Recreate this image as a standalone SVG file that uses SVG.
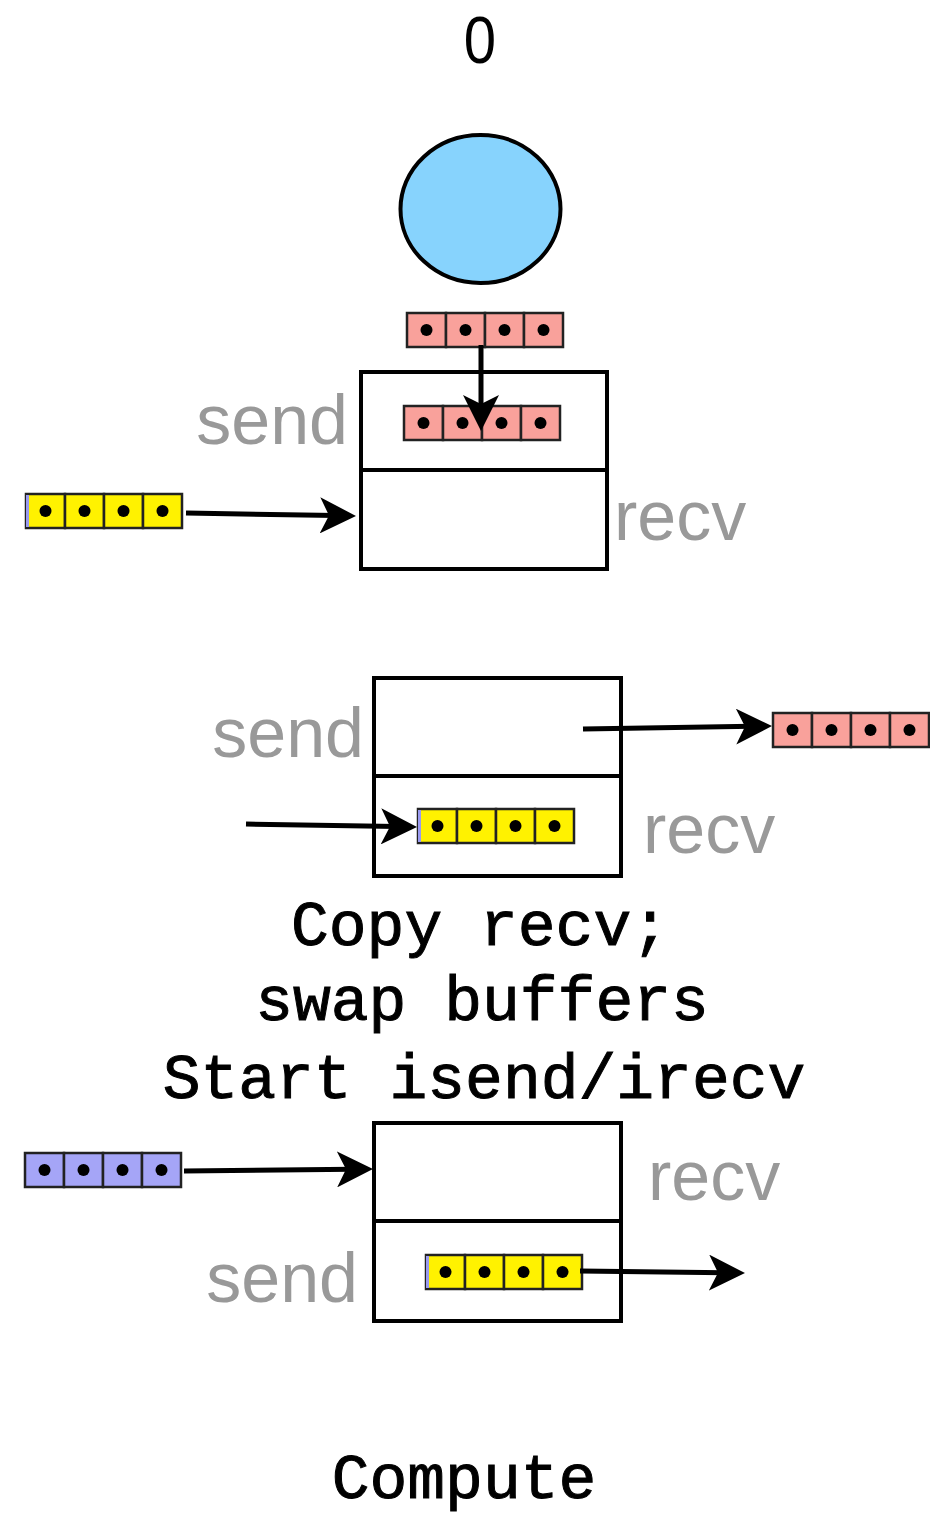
<svg xmlns="http://www.w3.org/2000/svg" xmlns:xlink="http://www.w3.org/1999/xlink" width="930" height="1519" viewBox="0 0 930 1519">
<style>
.box{fill:none;stroke:#000;stroke-width:4}
.lbl{font-family:"Liberation Sans",Arial,sans-serif;font-size:70px;fill:#999}
.mono{font-family:"Liberation Mono","Courier New",monospace;font-size:63px;fill:#000;stroke:#000;stroke-width:1;text-anchor:middle}
.conn{stroke:#000;stroke-width:5;fill:none;marker-end:url(#ah)}
.pink{fill:#f9a19b}
.yellow{fill:#fff200}
.blue{fill:#a5a5f7}
</style>
<defs>
<marker id="ah" markerUnits="userSpaceOnUse" viewBox="0 0 36 36" refX="16" refY="18" markerWidth="36" markerHeight="36" orient="auto">
<path d="M0,0 L36,18 L0,36 L9,18 z" fill="#000"/>
</marker>
<g id="arr">
<rect x="0" y="0" width="39" height="34" stroke="#222" stroke-width="2.5"/>
<rect x="39" y="0" width="39" height="34" stroke="#222" stroke-width="2.5"/>
<rect x="78" y="0" width="39" height="34" stroke="#222" stroke-width="2.5"/>
<rect x="117" y="0" width="39" height="34" stroke="#222" stroke-width="2.5"/>
<circle cx="19.5" cy="17" r="6" fill="#000"/>
<circle cx="58.5" cy="17" r="6" fill="#000"/>
<circle cx="97.5" cy="17" r="6" fill="#000"/>
<circle cx="136.5" cy="17" r="6" fill="#000"/>
</g>
</defs>

<g id="title"><text x="480" y="63" text-anchor="middle" transform="translate(480 0) scale(0.88 1) translate(-480 0)" style="font-family:'Liberation Sans',Arial,sans-serif;font-size:66px;fill:#000">0</text></g>

<g id="process"><ellipse cx="480.5" cy="209" rx="80" ry="74" fill="#87d3fd" stroke="#000" stroke-width="4"/></g>

<g id="buf1">
<rect class="box" x="361" y="372" width="246" height="197"/>
<line x1="361" y1="470" x2="607" y2="470" stroke="#000" stroke-width="4"/>
<text class="lbl" x="348" y="444" text-anchor="end">send</text>
<text class="lbl" x="614" y="540">recv</text>
</g>
<g id="arr1a"><use xlink:href="#arr" x="407" y="313" class="pink"/></g>
<g id="arr1b"><use xlink:href="#arr" x="404" y="406" class="pink"/></g>
<g id="arr1c"><use xlink:href="#arr" x="26" y="494" class="yellow"/><rect x="26" y="495" width="3" height="32" fill="#9a9af0"/></g>

<g id="buf2">
<rect class="box" x="374" y="678" width="247" height="198"/>
<line x1="374" y1="776" x2="621" y2="776" stroke="#000" stroke-width="4"/>
<text class="lbl" x="364" y="757" text-anchor="end">send</text>
<text class="lbl" x="643" y="853">recv</text>
</g>
<g id="arr2a"><use xlink:href="#arr" x="773" y="713" class="pink"/></g>
<g id="arr2b"><use xlink:href="#arr" x="418" y="809" class="yellow"/><rect x="418" y="810" width="3" height="32" fill="#9a9af0"/></g>

<g id="caption1">
<text class="mono" x="480" y="945">Copy recv;</text>
<text class="mono" x="482" y="1020">swap buffers</text>
<text class="mono" x="484" y="1098">Start isend/irecv</text>
</g>

<g id="buf3">
<rect class="box" x="374" y="1123" width="247" height="198"/>
<line x1="374" y1="1221" x2="621" y2="1221" stroke="#000" stroke-width="4"/>
<text class="lbl" x="648" y="1200">recv</text>
<text class="lbl" x="358" y="1302" text-anchor="end">send</text>
</g>
<g id="arr3a"><use xlink:href="#arr" x="25" y="1153" class="blue"/></g>
<g id="arr3b"><use xlink:href="#arr" x="426" y="1255" class="yellow"/><rect x="426" y="1256" width="3" height="32" fill="#9a9af0"/></g>

<g id="caption2"><text class="mono" x="464" y="1498">Compute</text></g>

<g id="connectors">
<line class="conn" x1="481" y1="345" x2="481" y2="411"/>
<line class="conn" x1="186" y1="513" x2="336" y2="515.6"/>
<line class="conn" x1="583" y1="729" x2="752" y2="726.3"/>
<line class="conn" x1="246" y1="824" x2="397" y2="826.6"/>
<line class="conn" x1="184" y1="1171" x2="353" y2="1169.2"/>
<line class="conn" x1="580" y1="1271" x2="725" y2="1272.8"/>
</g>
</svg>
